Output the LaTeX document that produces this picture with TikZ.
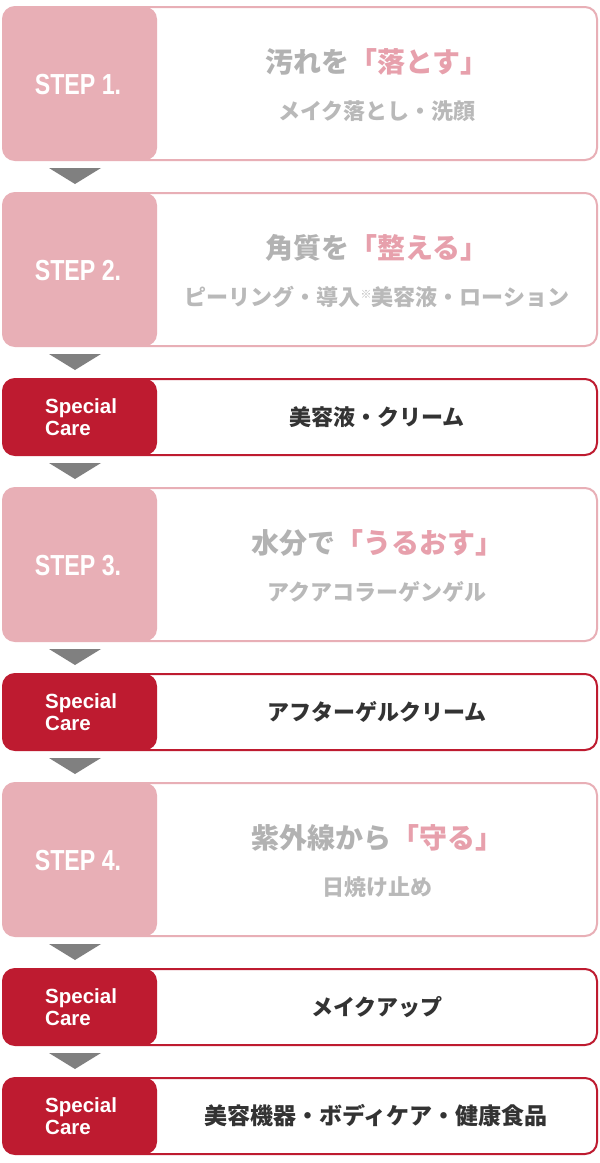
\documentclass[tikz,border=0pt]{standalone}
\usepackage{fontspec}
\setmainfont{Liberation Sans}
\newfontfamily\jp{Noto Sans CJK JP}
\newfontfamily\narrowfont{Liberation Sans}[FakeStretch=0.8]
\usetikzlibrary{calc}
\definecolor{pinkc}{RGB}{232,175,182}
\definecolor{pinkt}{RGB}{231,160,172}
\definecolor{redc}{RGB}{190,27,48}
\definecolor{grayt}{RGB}{178,178,178}
\definecolor{graysub}{RGB}{185,185,185}
\definecolor{darkt}{RGB}{51,51,51}
\definecolor{arrowc}{RGB}{128,128,128}
\tikzset{
  box/.style={rectangle, rounded corners=12pt, line width=2pt, minimum width=594pt, fill=white, inner sep=0pt, outer sep=0pt},
  stepbox/.style={box, draw=pinkc, minimum height=153pt,
    path picture={\fill[pinkc] (path picture bounding box.north west) rectangle ([xshift=154pt]path picture bounding box.south west);}},
  carebox/.style={box, draw=redc, minimum height=76pt,
    path picture={\fill[redc] (path picture bounding box.north west) rectangle ([xshift=154pt]path picture bounding box.south west);}},
  steplabel/.style={text=white, font=\narrowfont\bfseries\fontsize{29}{29}\selectfont, inner sep=0pt},
  carelabel/.style={text=white, font=\bfseries\fontsize{20.5}{22}\selectfont, align=left, anchor=west, inner sep=0pt},
  titletext/.style={text=grayt, font=\jp\bfseries\fontsize{28}{32}\selectfont, inner sep=0pt},
  subtext/.style={text=graysub, font=\jp\bfseries\fontsize{22}{26}\selectfont, inner sep=0pt},
  caretext/.style={text=darkt, font=\jp\bfseries\fontsize{22}{26}\selectfont, inner sep=0pt},
  tri/.style={fill=arrowc},
}
\begin{document}
\begin{tikzpicture}[x=1pt,y=-1pt]
\fill[white] (0,0) rectangle (600,1163);
\useasboundingbox (0,0) rectangle (600,1163);

% boxes
\node[stepbox] (s1) at (300,83.5) {};
\node[stepbox] (s2) at (300,269.5) {};
\node[carebox] (c1) at (300,417) {};
\node[stepbox] (s3) at (300,564.5) {};
\node[carebox] (c2) at (300,712) {};
\node[stepbox] (s4) at (300,859.5) {};
\node[carebox] (c3) at (300,1007) {};
\node[carebox] (c4) at (300,1116) {};

% arrows
\foreach \b in {s1,s2,c1,s3,c2,s4,c3}{
  \fill[tri] ($(\b.south west)+(46,8)$) -- ++(52,0) -- ++(-26,16) -- cycle;
}

% step labels
\node[steplabel] (s1l) at ($(s1.west)+(75,1)$) {STEP 1.};
\node[steplabel] (s2l) at ($(s2.west)+(75,1)$) {STEP 2.};
\node[steplabel] (s3l) at ($(s3.west)+(75,1)$) {STEP 3.};
\node[steplabel] (s4l) at ($(s4.west)+(75,1)$) {STEP 4.};

% titles and subtitles
\node[titletext] (s1t) at ($(s1.north)+(77,55)$) {汚れを\textcolor{pinkt}{「落とす」}};
\node[subtext] (s1s) at ($(s1.north)+(77,104)$) {メイク落とし・洗顔};
\node[titletext] (s2t) at ($(s2.north)+(77,55)$) {角質を\textcolor{pinkt}{「整える」}};
\node[subtext] (s2s) at ($(s2.north)+(77,104)$) {ピーリング・導入\raisebox{7pt}{\fontsize{11}{11}\selectfont ※}美容液・ローション};
\node[titletext] (s3t) at ($(s3.north)+(77,55)$) {水分で\textcolor{pinkt}{「うるおす」}};
\node[subtext] (s3s) at ($(s3.north)+(77,104)$) {アクアコラーゲンゲル};
\node[titletext] (s4t) at ($(s4.north)+(77,55)$) {紫外線から\textcolor{pinkt}{「守る」}};
\node[subtext] (s4s) at ($(s4.north)+(77,104)$) {日焼け止め};

% special care
\foreach \b in {c1,c2,c3,c4}{
  \node[carelabel] (\b l) at ($(\b.west)+(42,0)$) {Special\\Care};
}
\node[caretext] (c1t) at ($(c1.center)+(77,0)$) {美容液・クリーム};
\node[caretext] (c2t) at ($(c2.center)+(77,0)$) {アフターゲルクリーム};
\node[caretext] (c3t) at ($(c3.center)+(77,0)$) {メイクアップ};
\node[caretext, font=\jp\bfseries\fontsize{23}{27}\selectfont] (c4t) at ($(c4.center)+(76,0)$) {美容機器・ボディケア・健康食品};
\end{tikzpicture}
\end{document}
